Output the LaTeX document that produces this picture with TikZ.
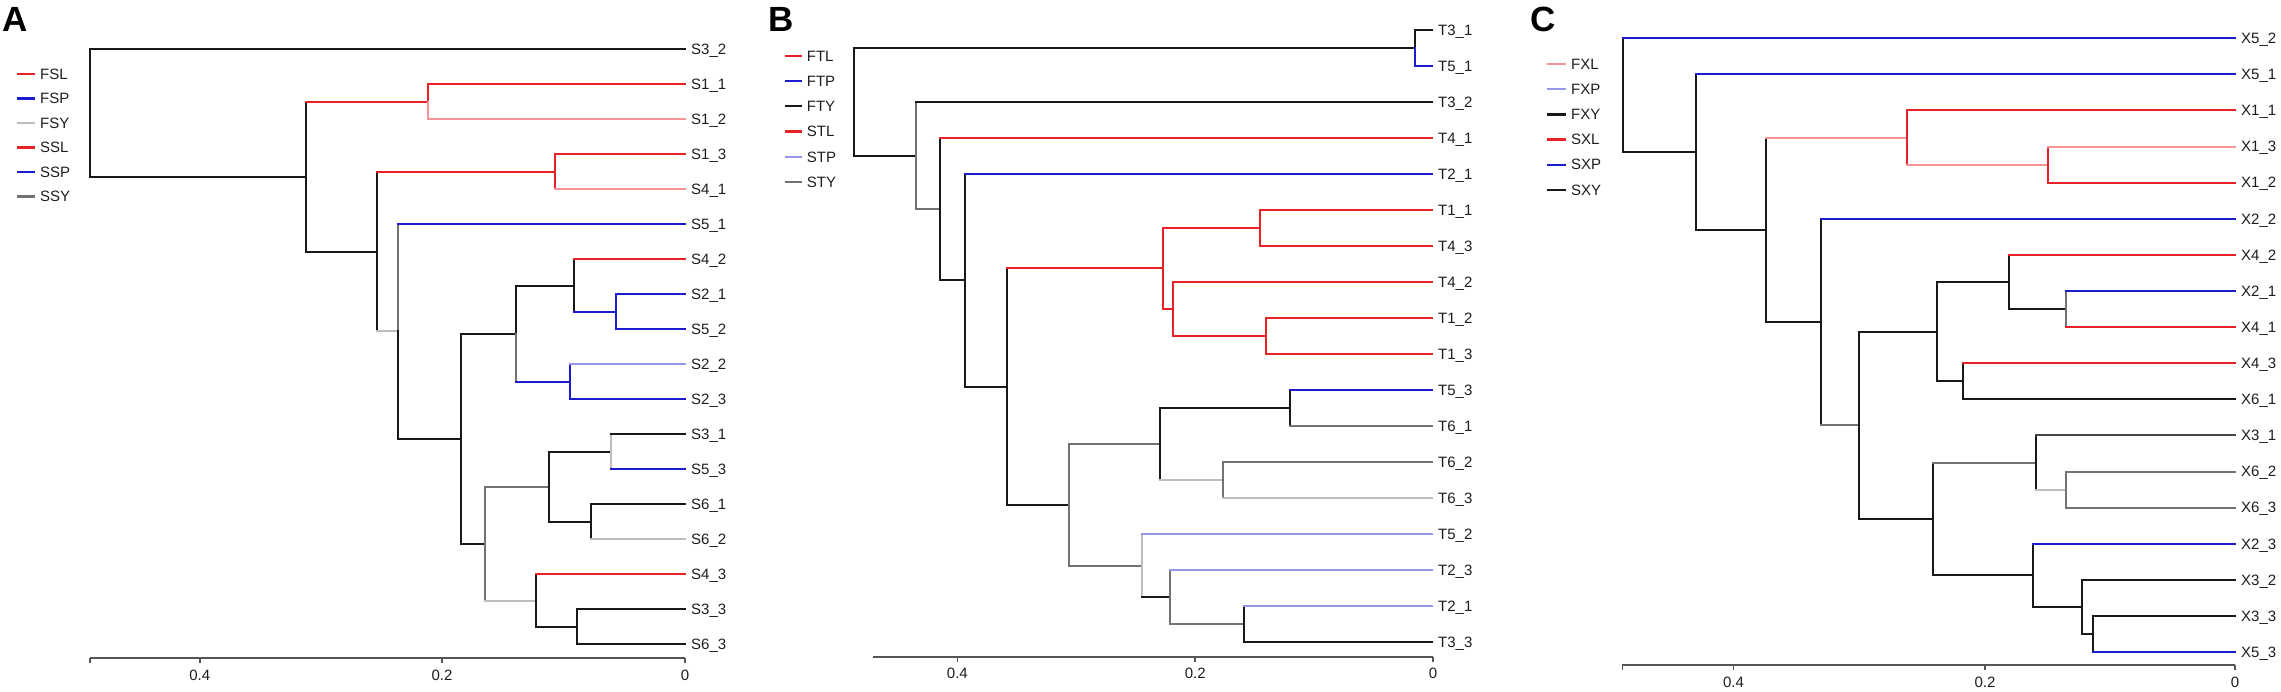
\documentclass[tikz,border=0pt]{standalone}
\usepackage{fontspec}
\setmainfont{Liberation Sans}
\definecolor{cred}{RGB}{232,35,40}
\definecolor{cpink}{RGB}{244,150,152}
\definecolor{cblue}{RGB}{28,28,205}
\definecolor{clblue}{RGB}{150,150,235}
\definecolor{clgrey}{RGB}{190,190,190}
\definecolor{cgrey}{RGB}{115,115,115}
\definecolor{cdgrey}{RGB}{70,70,70}
\definecolor{cblack}{RGB}{25,25,25}
\definecolor{caxis}{RGB}{85,85,85}
\definecolor{ctext}{RGB}{30,30,30}
\tikzset{
  tree/.style={line width=2pt, line cap=rect},
  lab/.style={anchor=base west, inner sep=0pt, font=\fontsize{15}{18}\selectfont, text=ctext},
  legl/.style={line width=2.2pt},
  axisl/.style={line width=1.8pt, draw=caxis},
  tickl/.style={anchor=center, inner sep=0pt, font=\fontsize{15}{18}\selectfont, text=ctext},
  letter/.style={anchor=base west, inner sep=0pt, font=\fontsize{35}{40}\selectfont\bfseries}
}
\newcommand{\edg}[4]{\draw[tree,#4] (#1) -- (#1 |- #2); \draw[tree,#3] (#1 |- #2) -- (#2);}
\newcommand{\leaf}[4]{\coordinate (#1) at (#2,#3); \node[lab] (t#1) at ([xshift=6pt,yshift=-5.3pt]#1) {#4};}
\newcommand{\legitem}[6]{\coordinate (#1s) at (#2,#4); \coordinate (#1e) at (#3,#4); \draw[legl,#5] (#1s) -- (#1e); \node[lab] (#1) at ([xshift=5pt,yshift=-5.3pt]#1e) {#6};}
\begin{document}
\begin{tikzpicture}[x=1pt,y=-1pt]
\fill[white] (0,0) rectangle (2281,692);
\useasboundingbox (0,0) rectangle (2281,692);

% ---------------- Panel A ----------------
\node[letter] (LA) at (2,32) {A};
\legitem{lgA1}{17}{35}{74}{cred}{FSL}
\legitem{lgA2}{17}{35}{98.5}{cblue}{FSP}
\legitem{lgA3}{17}{35}{123}{clgrey}{FSY}
\legitem{lgA4}{17}{35}{147.5}{cred}{SSL}
\legitem{lgA5}{17}{35}{172}{cblue}{SSP}
\legitem{lgA6}{17}{35}{196.5}{cgrey}{SSY}

\leaf{aS32}{685}{49.3}{S3\_2}
\leaf{aS11}{685}{84.3}{S1\_1}
\leaf{aS12}{685}{119.3}{S1\_2}
\leaf{aS13}{685}{154.3}{S1\_3}
\leaf{aS41}{685}{189.3}{S4\_1}
\leaf{aS51}{685}{224.3}{S5\_1}
\leaf{aS42}{685}{259.3}{S4\_2}
\leaf{aS21}{685}{294.3}{S2\_1}
\leaf{aS52}{685}{329.3}{S5\_2}
\leaf{aS22}{685}{364.3}{S2\_2}
\leaf{aS23}{685}{399.3}{S2\_3}
\leaf{aS31}{685}{434.3}{S3\_1}
\leaf{aS53}{685}{469.3}{S5\_3}
\leaf{aS61}{685}{504.3}{S6\_1}
\leaf{aS62}{685}{539.3}{S6\_2}
\leaf{aS43}{685}{574.3}{S4\_3}
\leaf{aS33}{685}{609.3}{S3\_3}
\leaf{aS63}{685}{644.3}{S6\_3}

\coordinate (Ar) at (90.2,113.0);
\coordinate (A1g) at (306,176.7);
\coordinate (A1112) at (427.5,101.8);
\coordinate (A13g) at (376.7,251.6);
\coordinate (A1341) at (555,171.8);
\coordinate (A51g) at (398.4,331.5);
\coordinate (Amid) at (460.5,438.7);
\coordinate (AS2) at (516,333.7);
\coordinate (A42g) at (574.4,285.55);
\coordinate (A2152) at (616,311.8);
\coordinate (A2223) at (570,381.8);
\coordinate (Alow) at (484.7,543.7);
\coordinate (A3g) at (549,486.8);
\coordinate (A3153) at (611,451.8);
\coordinate (A6162) at (590.5,521.8);
\coordinate (A43g) at (535.6,600.55);
\coordinate (A3363) at (577.3,626.8);

\edg{Ar}{aS32}{cblack}{cblack}
\edg{Ar}{A1g}{cblack}{cblack}
\edg{A1g}{A1112}{cred}{cblack}
\edg{A1g}{A13g}{cblack}{cblack}
\edg{A1112}{aS11}{cred}{cred}
\edg{A1112}{aS12}{cpink}{cpink}
\edg{A13g}{A1341}{cred}{cblack}
\edg{A13g}{A51g}{clgrey}{cblack}
\edg{A1341}{aS13}{cred}{cred}
\edg{A1341}{aS41}{cpink}{cred}
\edg{A51g}{aS51}{cblue}{cgrey}
\edg{A51g}{Amid}{cblack}{cblack}
\edg{Amid}{AS2}{cblack}{cblack}
\edg{Amid}{Alow}{cblack}{cblack}
\edg{AS2}{A42g}{cblack}{cblack}
\edg{AS2}{A2223}{cblue}{cgrey}
\edg{A42g}{aS42}{cred}{cblack}
\edg{A42g}{A2152}{cblue}{cblack}
\edg{A2152}{aS21}{cblue}{cblue}
\edg{A2152}{aS52}{cblue}{cblue}
\edg{A2223}{aS22}{clblue}{cblue}
\edg{A2223}{aS23}{cblue}{cblue}
\edg{Alow}{A3g}{cgrey}{cgrey}
\edg{Alow}{A43g}{clgrey}{cgrey}
\edg{A3g}{A3153}{cblack}{cblack}
\edg{A3g}{A6162}{cblack}{cblack}
\edg{A3153}{aS31}{cblack}{clgrey}
\edg{A3153}{aS53}{cblue}{clgrey}
\edg{A6162}{aS61}{cblack}{cblack}
\edg{A6162}{aS62}{clgrey}{cblack}
\edg{A43g}{aS43}{cred}{cblack}
\edg{A43g}{A3363}{cblack}{cblack}
\edg{A3363}{aS33}{cblack}{cblack}
\edg{A3363}{aS63}{cblack}{cblack}

\draw[axisl] (90,658) -- (685,658);
\foreach \x in {90,199.7,442,685} \draw[axisl] (\x,658) -- (\x,663);
\node[tickl] (Aa4) at (199.7,675) {0.4};
\node[tickl] (Aa2) at (442,675) {0.2};
\node[tickl] (Aa0) at (685,675) {0};

% ---------------- Panel B ----------------
\node[letter] (LB) at (768,32) {B};
\legitem{lgB1}{784.6}{801.7}{56}{cred}{FTL}
\legitem{lgB2}{784.6}{801.7}{81.2}{cblue}{FTP}
\legitem{lgB3}{784.6}{801.7}{106.4}{cblack}{FTY}
\legitem{lgB4}{784.6}{801.7}{131.6}{cred}{STL}
\legitem{lgB5}{784.6}{801.7}{156.8}{clblue}{STP}
\legitem{lgB6}{784.6}{801.7}{182}{cgrey}{STY}

\leaf{bT31}{1432}{30}{T3\_1}
\leaf{bT51}{1432}{66}{T5\_1}
\leaf{bT32}{1432}{102}{T3\_2}
\leaf{bT41}{1432}{138}{T4\_1}
\leaf{bT21a}{1432}{174}{T2\_1}
\leaf{bT11}{1432}{210}{T1\_1}
\leaf{bT43}{1432}{246}{T4\_3}
\leaf{bT42}{1432}{282}{T4\_2}
\leaf{bT12}{1432}{318}{T1\_2}
\leaf{bT13}{1432}{354}{T1\_3}
\leaf{bT53}{1432}{390}{T5\_3}
\leaf{bT61}{1432}{426}{T6\_1}
\leaf{bT62}{1432}{462}{T6\_2}
\leaf{bT63}{1432}{498}{T6\_3}
\leaf{bT52}{1432}{534}{T5\_2}
\leaf{bT23}{1432}{570}{T2\_3}
\leaf{bT21b}{1432}{606}{T2\_1}
\leaf{bT33}{1432}{642}{T3\_3}

\coordinate (Br) at (854.3,101.8);
\coordinate (B3151) at (1414.7,48);
\coordinate (BN2) at (916.2,155.6);
\coordinate (BN3) at (940,209.2);
\coordinate (BN4) at (965.3,280.3);
\coordinate (BN5) at (1007.2,386.6);
\coordinate (Bred) at (1162.7,268.5);
\coordinate (B1143) at (1259.5,228);
\coordinate (Bred2) at (1173.3,309);
\coordinate (B1213) at (1265.9,336);
\coordinate (Bgrey) at (1069.4,504.75);
\coordinate (B6g) at (1160.3,444);
\coordinate (B5361) at (1289.5,408);
\coordinate (B6263) at (1222.7,480);
\coordinate (Blow) at (1142.1,565.5);
\coordinate (Blow2) at (1170.1,597);
\coordinate (B2133) at (1244.3,624);

\edg{Br}{B3151}{cblack}{cblack}
\edg{Br}{BN2}{cblack}{cblack}
\edg{B3151}{bT31}{cblack}{cblack}
\edg{B3151}{bT51}{cblue}{cblue}
\edg{BN2}{bT32}{cblack}{cgrey}
\edg{BN2}{BN3}{cgrey}{cgrey}
\edg{BN3}{bT41}{cred}{cblack}
\edg{BN3}{BN4}{cblack}{cblack}
\edg{BN4}{bT21a}{cblue}{cblack}
\edg{BN4}{BN5}{cblack}{cblack}
\edg{BN5}{Bred}{cred}{cblack}
\edg{BN5}{Bgrey}{cblack}{cblack}
\edg{Bred}{B1143}{cred}{cred}
\edg{Bred}{Bred2}{cred}{cred}
\edg{B1143}{bT11}{cred}{cred}
\edg{B1143}{bT43}{cred}{cred}
\edg{Bred2}{bT42}{cred}{cred}
\edg{Bred2}{B1213}{cred}{cred}
\edg{B1213}{bT12}{cred}{cred}
\edg{B1213}{bT13}{cred}{cred}
\edg{Bgrey}{B6g}{cgrey}{cgrey}
\edg{Bgrey}{Blow}{cgrey}{cgrey}
\edg{B6g}{B5361}{cblack}{cblack}
\edg{B6g}{B6263}{clgrey}{cblack}
\edg{B5361}{bT53}{cblue}{cblack}
\edg{B5361}{bT61}{cgrey}{cblack}
\edg{B6263}{bT62}{cgrey}{cgrey}
\edg{B6263}{bT63}{clgrey}{cgrey}
\edg{Blow}{bT52}{clblue}{clgrey}
\edg{Blow}{Blow2}{cblack}{clgrey}
\edg{Blow2}{bT23}{clblue}{cgrey}
\edg{Blow2}{B2133}{cgrey}{cgrey}
\edg{B2133}{bT21b}{clblue}{cblack}
\edg{B2133}{bT33}{cblack}{cblack}

\draw[axisl] (873,656.7) -- (1433,656.7);
\foreach \x in {957.4,1195.2,1433} \draw[axisl] (\x,656.7) -- (\x,661.7);
\node[tickl] (Ba4) at (957.4,673.3) {0.4};
\node[tickl] (Ba2) at (1195.2,673.3) {0.2};
\node[tickl] (Ba0) at (1433,673.3) {0};

% ---------------- Panel C ----------------
\node[letter] (LC) at (1530,32) {C};
\legitem{lgC1}{1546.8}{1565.9}{64.3}{cpink}{FXL}
\legitem{lgC2}{1546.8}{1565.9}{89.4}{clblue}{FXP}
\legitem{lgC3}{1546.8}{1565.9}{114.5}{cblack}{FXY}
\legitem{lgC4}{1546.8}{1565.9}{139.6}{cred}{SXL}
\legitem{lgC5}{1546.8}{1565.9}{164.7}{cblue}{SXP}
\legitem{lgC6}{1546.8}{1565.9}{189.8}{cblack}{SXY}

\leaf{cX52}{2235}{38.3}{X5\_2}
\leaf{cX51}{2235}{74.4}{X5\_1}
\leaf{cX11}{2235}{110.5}{X1\_1}
\leaf{cX13}{2235}{146.6}{X1\_3}
\leaf{cX12}{2235}{182.7}{X1\_2}
\leaf{cX22}{2235}{218.8}{X2\_2}
\leaf{cX42}{2235}{254.9}{X4\_2}
\leaf{cX21}{2235}{291.0}{X2\_1}
\leaf{cX41}{2235}{327.1}{X4\_1}
\leaf{cX43}{2235}{363.2}{X4\_3}
\leaf{cX61}{2235}{399.3}{X6\_1}
\leaf{cX31}{2235}{435.4}{X3\_1}
\leaf{cX62}{2235}{471.5}{X6\_2}
\leaf{cX63}{2235}{507.6}{X6\_3}
\leaf{cX23}{2235}{543.7}{X2\_3}
\leaf{cX32}{2235}{579.8}{X3\_2}
\leaf{cX33}{2235}{615.9}{X3\_3}
\leaf{cX53}{2235}{652.0}{X5\_3}

\coordinate (Cr) at (1622.7,95.2);
\coordinate (CN2) at (1696.3,152.1);
\coordinate (CN3) at (1766.3,229.8);
\coordinate (CX1) at (1907.4,137.6);
\coordinate (CX1312) at (2048.2,164.65);
\coordinate (CN4) at (1820.7,322.0);
\coordinate (CN5) at (1859,425.25);
\coordinate (Cup) at (1937,331.6);
\coordinate (CX42g) at (2009,282.0);
\coordinate (CX2141) at (2065.7,309.05);
\coordinate (CX4361) at (1962.7,381.25);
\coordinate (Clow) at (1932.7,518.9);
\coordinate (CX3g) at (2036,462.5);
\coordinate (CX6263) at (2066,489.55);
\coordinate (Cbot) at (2032.9,575.3);
\coordinate (CB2) at (2082.2,606.9);
\coordinate (CX3353) at (2092.7,634.0);

\edg{Cr}{cX52}{cblue}{cblack}
\edg{Cr}{CN2}{cblack}{cblack}
\edg{CN2}{cX51}{cblue}{cblack}
\edg{CN2}{CN3}{cblack}{cblack}
\edg{CN3}{CX1}{cpink}{cblack}
\edg{CN3}{CN4}{cblack}{cblack}
\edg{CX1}{cX11}{cred}{cred}
\edg{CX1}{CX1312}{cpink}{cred}
\edg{CX1312}{cX13}{cpink}{cred}
\edg{CX1312}{cX12}{cred}{cred}
\edg{CN4}{cX22}{cblue}{cblack}
\edg{CN4}{CN5}{cgrey}{cblack}
\edg{CN5}{Cup}{cblack}{cblack}
\edg{CN5}{Clow}{cblack}{cblack}
\edg{Cup}{CX42g}{cblack}{cblack}
\edg{Cup}{CX4361}{cblack}{cblack}
\edg{CX42g}{cX42}{cred}{cblack}
\edg{CX42g}{CX2141}{cblack}{cblack}
\edg{CX2141}{cX21}{cblue}{cgrey}
\edg{CX2141}{cX41}{cred}{cgrey}
\edg{CX4361}{cX43}{cred}{cblack}
\edg{CX4361}{cX61}{cblack}{cblack}
\edg{Clow}{CX3g}{cgrey}{cblack}
\edg{Clow}{Cbot}{cblack}{cblack}
\edg{CX3g}{cX31}{cdgrey}{cblack}
\edg{CX3g}{CX6263}{clgrey}{cblack}
\edg{CX6263}{cX62}{cgrey}{cgrey}
\edg{CX6263}{cX63}{cgrey}{cgrey}
\edg{Cbot}{cX23}{cblue}{cblack}
\edg{Cbot}{CB2}{cblack}{cblack}
\edg{CB2}{cX32}{cblack}{cblack}
\edg{CB2}{CX3353}{cblack}{cblack}
\edg{CX3353}{cX33}{cblack}{cblack}
\edg{CX3353}{cX53}{cblue}{cblack}

\draw[axisl] (1622.4,665) -- (2235,665);
\foreach \x in {1622.4,1733.5,1985,2235} \draw[axisl] (\x,665) -- (\x,670);
\node[tickl] (Ca4) at (1733.5,682.3) {0.4};
\node[tickl] (Ca2) at (1985,682.3) {0.2};
\node[tickl] (Ca0) at (2235,682.3) {0};
\end{tikzpicture}
\end{document}
